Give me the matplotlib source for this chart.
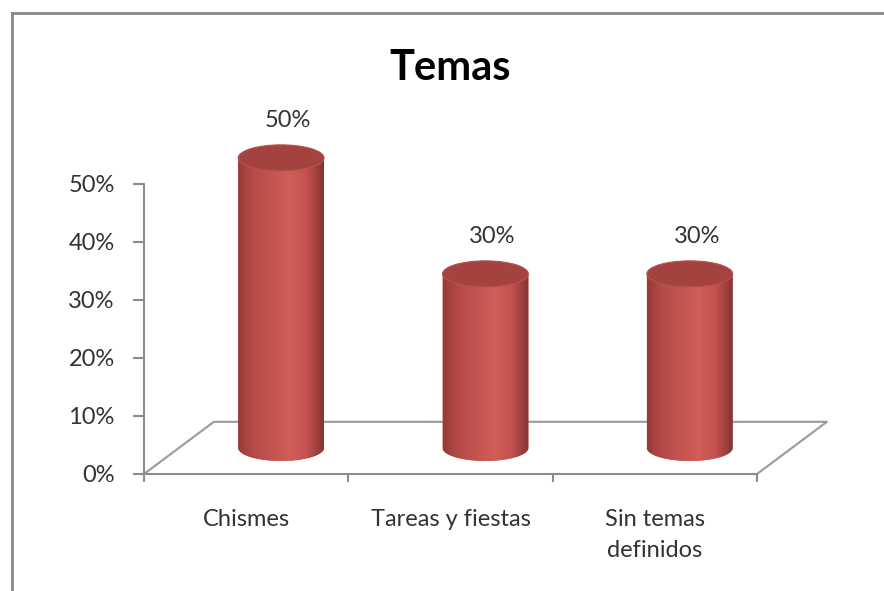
import numpy as np
import matplotlib
matplotlib.use("Agg")
import matplotlib.pyplot as plt
from matplotlib.patches import Ellipse, PathPatch
from matplotlib.path import Path
from matplotlib.lines import Line2D
from matplotlib.colors import LinearSegmentedColormap
from matplotlib.transforms import Affine2D

# === DATA ===
categories = ["Chismes", "Tareas y fiestas", "Sin temas\ndefinidos"]
values = [0.50, 0.30, 0.30]
value_labels = ["50%", "30%", "30%"]
y_ticks = [0.0, 0.1, 0.2, 0.3, 0.4, 0.5]
y_tick_labels = ["0%", "10%", "20%", "30%", "40%", "50%"]
title = "Temas"

# === STYLE ===
plt.rcParams["font.family"] = ["Lato", "DejaVu Sans"]
axis_gray = "#8c8c8c"
text_gray = "#333333"
bar_width = 0.42          # in category units
cap_half = 0.0225         # half height of the cylinder ellipse (value units)
depth_x, depth_y = 0.342, 0.09   # floor depth in data units

fig = plt.figure(figsize=(8.84, 5.91), dpi=100)
ax = fig.add_axes([144 / 884, 117 / 591, 613 / 884, 348 / 591])
ax.set_xlim(-0.5, len(categories) - 0.5)
ax.set_ylim(0, 0.6)
ax.patch.set_alpha(0)

# chart border (left + top only visible)
fig.add_artist(Line2D([11.5 / 884, 11.5 / 884], [0, 1 - 13 / 591],
                      transform=fig.transFigure, color="#878787", lw=2))
fig.add_artist(Line2D([11.5 / 884, 1], [1 - 13 / 591, 1 - 13 / 591],
                      transform=fig.transFigure, color="#878787", lw=2))

# floor
x0, x1 = ax.get_xlim()
ax.plot([x0, x0 + depth_x, x1 + depth_x, x1], [0, depth_y, depth_y, 0],
        color="#9a9a9a", lw=1.5, clip_on=False, zorder=1)

# cylinders sit in the middle of the floor depth
bar_trans = Affine2D().translate(depth_x / 2, depth_y / 2) + ax.transData
cmap = LinearSegmentedColormap.from_list(
    "cyl", [(0, "#953a37"), (0.15, "#b34946"), (0.6, "#d25d59"),
            (0.8, "#c25250"), (1.0, "#873331")])
grad = np.linspace(0, 1, 256)[np.newaxis, :]

for i, v in enumerate(values):
    left, right = i - bar_width / 2, i + bar_width / 2
    t = np.linspace(np.pi, 2 * np.pi, 60)
    ex = i + bar_width / 2 * np.cos(t)
    ey = cap_half * np.sin(t)
    verts = [(left, v)] + list(zip(ex, ey)) + [(right, v), (left, v)]
    codes = [Path.MOVETO] + [Path.LINETO] * (len(verts) - 2) + [Path.CLOSEPOLY]
    body = PathPatch(Path(verts, codes), transform=bar_trans,
                     facecolor="#c0504d", edgecolor="none", zorder=2)
    ax.add_patch(body)
    im = ax.imshow(grad, cmap=cmap, aspect="auto", interpolation="bilinear",
                   extent=(left, right, -cap_half, v), transform=bar_trans,
                   zorder=3)
    im.set_clip_path(body)
    top = Ellipse((i, v), bar_width, 2 * cap_half, transform=bar_trans,
                  facecolor="#a3423f", edgecolor="#b9524f", lw=0.8, zorder=4)
    ax.add_patch(top)
    ax.annotate(value_labels[i], xy=(i, v), xycoords=bar_trans,
                xytext=(7, 37), textcoords="offset pixels",
                ha="center", va="center", fontsize=17, color=text_gray)

ax.set_xlim(x0, x1)
ax.set_ylim(0, 0.6)

# axes styling
for s in ["top", "right"]:
    ax.spines[s].set_visible(False)
for s in ["left", "bottom"]:
    ax.spines[s].set_color(axis_gray)
    ax.spines[s].set_linewidth(1.5)
ax.spines["left"].set_bounds(0, 0.5)

ax.set_yticks(y_ticks)
ax.set_yticklabels(y_tick_labels, fontsize=17, color=text_gray)
ax.tick_params(axis="y", length=8, width=1.5, color=axis_gray, pad=13)

ax.set_xticks(range(len(categories)))
ax.set_xticklabels(categories, fontsize=17, color=text_gray, linespacing=1.6)
ax.set_xticks(np.arange(-0.5, len(categories)), minor=True)
ax.tick_params(axis="x", which="major", length=0, pad=25)
ax.tick_params(axis="x", which="minor", length=6, width=1.5, color=axis_gray)

fig.text(450 / 884, 1 - 80 / 591, title, ha="center", va="baseline",
         fontsize=30, fontweight="bold", color="black")

fig.savefig("out.png", dpi=100)
